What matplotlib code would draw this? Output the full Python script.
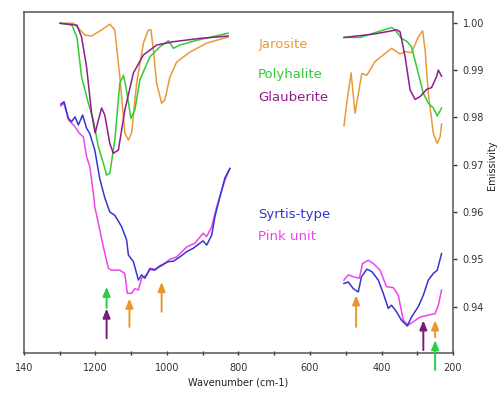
import numpy as np
import matplotlib
matplotlib.use('Agg')
import matplotlib.pyplot as plt

# spectra, left window (~1300-820 cm-1) and right window (~505-230 cm-1)
jar_wn_l = [1299, 1262, 1229, 1211, 1183, 1160, 1146, 1132, 1118, 1108, 1099, 1085, 1066, 1052, 1045,
            1038, 1029, 1015, 1006, 992, 973, 936, 889, 829]
jar_l = [0.9999, 0.9999, 0.9974, 0.9972, 0.9985, 0.9997, 0.9985, 0.9886, 0.9767, 0.9752, 0.9767, 0.9872,
         0.9957, 0.9985, 0.9985, 0.9942, 0.9872, 0.9830, 0.9837, 0.9885, 0.9917, 0.9938, 0.9957, 0.9970]
jar_wn_r = [505, 496, 485, 474, 455, 441, 418, 372, 348, 334, 316, 297, 285, 278, 269, 255, 244, 236, 232]
jar_r = [0.9782, 0.9837, 0.9894, 0.9809, 0.9893, 0.9889, 0.9918, 0.9946, 0.9934, 0.9939, 0.9937, 0.9970,
         0.9983, 0.9942, 0.9851, 0.9766, 0.9745, 0.9759, 0.9786]

pol_wn_l = [1299, 1266, 1252, 1239, 1220, 1206, 1192, 1178, 1169, 1160, 1146, 1132, 1122, 1115, 1101,
            1090, 1076, 1048, 1020, 996, 982, 964, 917, 829]
pol_l = [0.9999, 0.9995, 0.9970, 0.9886, 0.9830, 0.9794, 0.9738, 0.9703, 0.9678, 0.9682, 0.9752, 0.9872,
         0.9889, 0.9865, 0.9798, 0.9815, 0.9879, 0.9928, 0.9949, 0.9962, 0.9946, 0.9953, 0.9963, 0.9978]
pol_wn_r = [505, 460, 423, 372, 362, 344, 328, 316, 297, 283, 269, 255, 244, 232]
pol_r = [0.9969, 0.9969, 0.9978, 0.9990, 0.9985, 0.9967, 0.9960, 0.9949, 0.9893, 0.9851, 0.9830, 0.9820,
         0.9803, 0.9820]

gla_wn_l = [1299, 1252, 1239, 1225, 1211, 1201, 1192, 1183, 1174, 1160, 1150, 1136, 1118, 1094, 1066,
            1029, 982, 908, 829]
gla_l = [0.9999, 0.9995, 0.9970, 0.9907, 0.9809, 0.9767, 0.9794, 0.9820, 0.9805, 0.9745, 0.9724, 0.9731,
         0.9815, 0.9894, 0.9932, 0.9953, 0.9960, 0.9967, 0.9972]
gla_wn_r = [505, 423, 386, 358, 348, 334, 320, 306, 292, 274, 260, 246, 241, 232]
gla_r = [0.9969, 0.9976, 0.9981, 0.9985, 0.9981, 0.9928, 0.9858, 0.9838, 0.9844, 0.9859, 0.9863, 0.9886,
         0.9900, 0.9887]

syr_wn_l = [1297, 1288, 1276, 1267, 1257, 1248, 1236, 1225, 1216, 1202, 1188, 1174, 1160, 1146, 1127,
            1113, 1108, 1094, 1085, 1080, 1071, 1062, 1048, 1034, 1020, 996, 982, 964, 945, 927, 908,
            899, 889, 875, 866, 852, 838, 824]
syr_l = [0.9828, 0.9833, 0.9798, 0.9791, 0.9801, 0.9784, 0.9805, 0.9777, 0.9766, 0.9731, 0.9670, 0.9630,
         0.9600, 0.9593, 0.9569, 0.9541, 0.9509, 0.9495, 0.9470, 0.9456, 0.9467, 0.9460, 0.9479, 0.9477,
         0.9486, 0.9495, 0.9496, 0.9505, 0.9516, 0.9523, 0.9534, 0.9539, 0.9530, 0.9551, 0.9590, 0.9632,
         0.9672, 0.9692]
syr_wn_r = [505, 493, 479, 465, 456, 441, 427, 409, 395, 381, 372, 358, 344, 328, 316, 297, 283, 269,
            255, 244, 232]
syr_r = [0.9449, 0.9452, 0.9438, 0.9431, 0.9463, 0.9479, 0.9474, 0.9456, 0.9428, 0.9396, 0.9403, 0.9389,
         0.9371, 0.9359, 0.9378, 0.9400, 0.9424, 0.9456, 0.9470, 0.9477, 0.9512]

pnk_wn_l = [1297, 1288, 1276, 1267, 1257, 1245, 1234, 1225, 1216, 1206, 1202, 1192, 1178, 1164, 1155,
            1132, 1118, 1111, 1099, 1090, 1080, 1071, 1057, 1048, 1034, 1015, 992, 973, 945, 922, 899,
            889, 875, 861, 838, 824]
pnk_l = [0.9824, 0.9830, 0.9795, 0.9788, 0.9780, 0.9766, 0.9759, 0.9717, 0.9696, 0.9640, 0.9611, 0.9576,
         0.9526, 0.9481, 0.9477, 0.9477, 0.9470, 0.9428, 0.9428, 0.9438, 0.9435, 0.9460, 0.9467, 0.9481,
         0.9479, 0.9486, 0.9500, 0.9505, 0.9526, 0.9534, 0.9555, 0.9548, 0.9569, 0.9611, 0.9667, 0.9692]
pnk_wn_r = [505, 493, 479, 462, 453, 437, 423, 404, 386, 367, 353, 339, 325, 311, 292, 269, 250, 241, 232]
pnk_r = [0.9456, 0.9467, 0.9463, 0.9460, 0.9491, 0.9498, 0.9491, 0.9477, 0.9442, 0.9440, 0.9424, 0.9371,
         0.9361, 0.9368, 0.9378, 0.9382, 0.9385, 0.9403, 0.9435]

# band arrows: wavenumber, tail, tip, mineral
arrow_wn = [1169, 1169, 1105, 1015, 471, 283, 250, 250]
arrow_tail = [0.9397, 0.9333, 0.9357, 0.9389, 0.9357, 0.9308, 0.9335, 0.9266]
arrow_tip = [0.9442, 0.9396, 0.9417, 0.9452, 0.9424, 0.9371, 0.9371, 0.9329]
arrow_min = ['pol', 'gla', 'jar', 'jar', 'jar', 'gla', 'jar', 'pol']

colors = {'jar': '#E89A3A', 'pol': '#33CC33', 'gla': '#8E1E8E', 'syr': '#3535D0', 'pnk': '#EE44EE'}
arrow_colors = {'jar': '#E8962E', 'pol': '#2ECC40', 'gla': '#7A1A7A'}

fig = plt.figure(figsize=(5.0, 3.97), dpi=100)
ax = fig.add_axes([0.048, 0.111, 0.858, 0.859])

series = [
    ('jar', jar_wn_l, jar_l, jar_wn_r, jar_r),
    ('pol', pol_wn_l, pol_l, pol_wn_r, pol_r),
    ('gla', gla_wn_l, gla_l, gla_wn_r, gla_r),
    ('pnk', pnk_wn_l, pnk_l, pnk_wn_r, pnk_r),
    ('syr', syr_wn_l, syr_l, syr_wn_r, syr_r),
]
for key, wl, yl, wr, yr in series:
    ax.plot(wl, yl, color=colors[key], lw=1.1)
    ax.plot(wr, yr, color=colors[key], lw=1.1)

for w, t0, t1, m in zip(arrow_wn, arrow_tail, arrow_tip, arrow_min):
    ax.annotate('', xy=(w, t1), xytext=(w, t0), annotation_clip=False,
                arrowprops=dict(arrowstyle='-|>,head_length=0.55,head_width=0.22',
                                color=arrow_colors[m], lw=1.4, shrinkA=0, shrinkB=0))

labels = [('Jarosite', 'jar', 0.9955), ('Polyhalite', 'pol', 0.9890), ('Glauberite', 'gla', 0.9843),
          ('Syrtis-type', 'syr', 0.9595), ('Pink unit', 'pnk', 0.9548)]
for txt, key, yv in labels:
    ax.text(745, yv, txt, color=colors[key], fontsize=9.5, va='center', ha='left')

ax.set_xlim(1400, 200)
ax.set_ylim(0.9302, 1.0023)
ax.set_xticks(np.arange(1400, 199, -100), minor=False)
ax.set_xticklabels(['140', '', '1200', '', '1000', '', '800', '', '600', '', '400', '', '200'])
ax.set_yticks([0.94, 0.95, 0.96, 0.97, 0.98, 0.99, 1.00])
ax.set_yticklabels(['0.94', '0.95', '0.96', '0.97', '0.98', '0.99', '1.00'])
ax.yaxis.tick_right()
ax.tick_params(axis='x', direction='inout', length=3, width=1, labelsize=7, colors='#333333', pad=6)
ax.tick_params(axis='y', direction='out', length=3, width=1, labelsize=7, colors='#333333', pad=4)
for s in ax.spines.values():
    s.set_color('#555555')
    s.set_linewidth(1.1)

ax.set_xlabel('Wavenumber (cm-1)', fontsize=7, color='#222222', labelpad=3)
ax.text(1.091, 0.55, 'Emissivity', transform=ax.transAxes, rotation=90, fontsize=7,
        color='#222222', ha='center', va='center')

fig.savefig('out.png', dpi=100)
